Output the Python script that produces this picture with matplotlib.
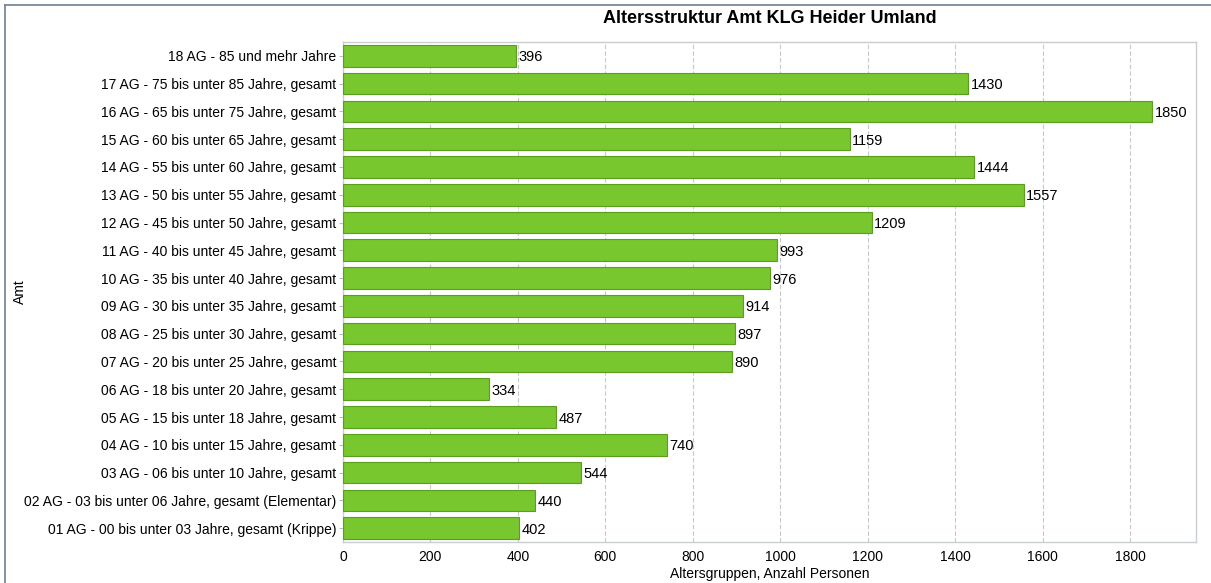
import matplotlib.pyplot as plt
import matplotlib.lines as mlines

plt.rcParams['font.family'] = ['Liberation Sans', 'DejaVu Sans']

labels = [
    "01 AG - 00 bis unter 03 Jahre, gesamt (Krippe)",
    "02 AG - 03 bis unter 06 Jahre, gesamt (Elementar)",
    "03 AG - 06 bis unter 10 Jahre, gesamt",
    "04 AG - 10 bis unter 15 Jahre, gesamt",
    "05 AG - 15 bis unter 18 Jahre, gesamt",
    "06 AG - 18 bis unter 20 Jahre, gesamt",
    "07 AG - 20 bis unter 25 Jahre, gesamt",
    "08 AG - 25 bis unter 30 Jahre, gesamt",
    "09 AG - 30 bis unter 35 Jahre, gesamt",
    "10 AG - 35 bis unter 40 Jahre, gesamt",
    "11 AG - 40 bis unter 45 Jahre, gesamt",
    "12 AG - 45 bis unter 50 Jahre, gesamt",
    "13 AG - 50 bis unter 55 Jahre, gesamt",
    "14 AG - 55 bis unter 60 Jahre, gesamt",
    "15 AG - 60 bis unter 65 Jahre, gesamt",
    "16 AG - 65 bis unter 75 Jahre, gesamt",
    "17 AG - 75 bis unter 85 Jahre, gesamt",
    "18 AG - 85 und mehr Jahre",
]
values = [402, 440, 544, 740, 487, 334, 890, 897, 914, 976, 993, 1209,
          1557, 1444, 1159, 1850, 1430, 396]
xticks = [0, 200, 400, 600, 800, 1000, 1200, 1400, 1600, 1800]

fig = plt.figure(figsize=(12.11, 5.83), dpi=100)
ax = fig.add_axes([0.2832, 0.0703, 0.7044, 0.8577])

y = range(len(values))
ax.barh(y, values, height=0.78, color='#78C72E', edgecolor='#5A9E1E', linewidth=0.8, zorder=3)
for yi, v in zip(y, values):
    ax.text(v + 6, yi, str(v), va='center_baseline', ha='left', fontsize=10.5, zorder=4)

ax.set_yticks(list(y))
ax.set_yticklabels(labels, fontsize=10)
ax.set_xticks(xticks)
ax.tick_params(axis='x', labelsize=10, length=0, pad=6)
ax.tick_params(axis='y', length=3, color='#BBBBBB', pad=2)
ax.set_xlim(0, 1951)
ax.set_ylim(-0.5, len(values) - 0.5)
ax.grid(axis='x', linestyle=(0, (4, 2)), color='#C8C8C8', linewidth=0.8, zorder=0)
for s in ax.spines.values():
    s.set_color('#C8CDD0')
    s.set_linewidth(1.0)

ax.set_xlabel("Altersgruppen, Anzahl Personen", fontsize=10, labelpad=2)
ax.set_ylabel("Amt", fontsize=10)
ax.yaxis.set_label_coords(-0.37, 0.5)
fig.text(0.636, 0.968, "Altersstruktur Amt KLG Heider Umland", ha='center', va='center',
         fontsize=13, fontweight='bold')

# frame lines on figure
fig.add_artist(mlines.Line2D([0.0045, 0.0045], [0, 0.991], transform=fig.transFigure,
                             color='#6F8090', linewidth=1.2))
fig.add_artist(mlines.Line2D([0.0045, 1], [0.991, 0.991], transform=fig.transFigure,
                             color='#6F8090', linewidth=1.2))

fig.savefig("out.png", dpi=100)
